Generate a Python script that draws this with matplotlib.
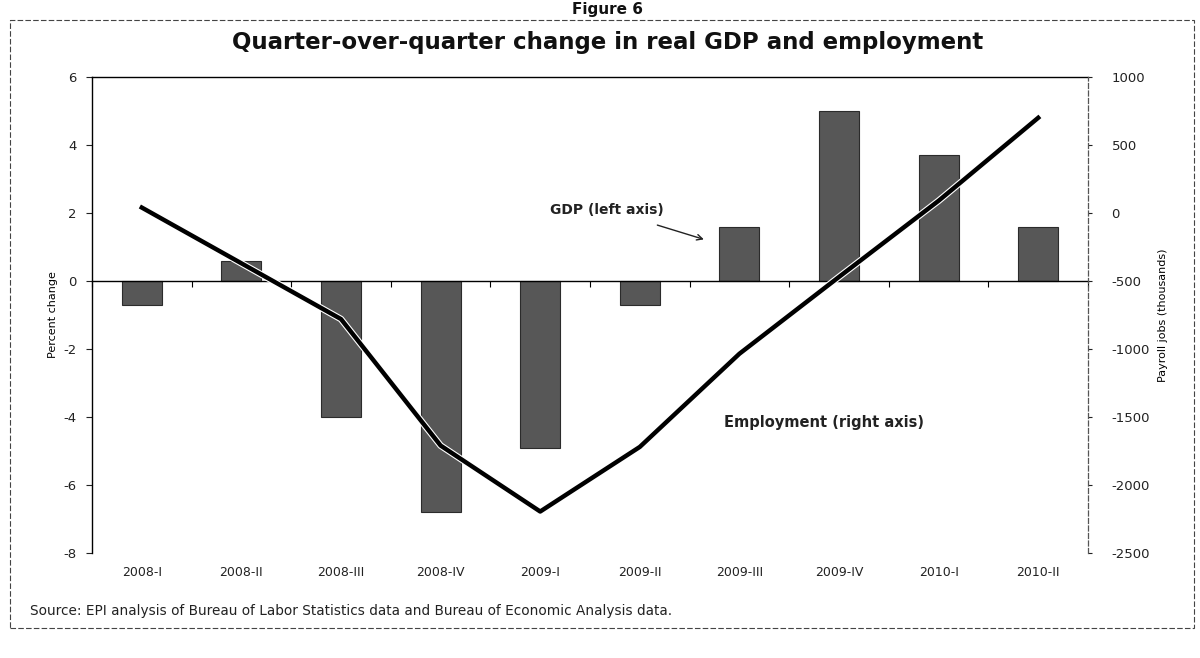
import numpy as np
import matplotlib
matplotlib.use("Agg")
import matplotlib.pyplot as plt
import matplotlib.patheffects as pe
from matplotlib.patches import Rectangle

plt.rcParams["axes.unicode_minus"] = False

# quarters and values
quarters = ["2008-I", "2008-II", "2008-III", "2008-IV", "2009-I",
            "2009-II", "2009-III", "2009-IV", "2010-I", "2010-II"]
gdp = [-0.7, 0.6, -4.0, -6.8, -4.9, -0.7, 1.6, 5.0, 3.7, 1.6]          # percent change
jobs = [40, -370, -780, -1710, -2195, -1720, -1035, -470, 90, 700]     # thousands

left_ticks = [-8, -6, -4, -2, 0, 2, 4, 6]
right_ticks = [-2500, -2000, -1500, -1000, -500, 0, 500, 1000]

narrow = ["Liberation Sans Narrow", "DejaVu Sans"]

fig = plt.figure(figsize=(12, 6.58), dpi=100)
ax = fig.add_axes([92/1200, 1-553/658, 996/1200, 476/658])
x = np.arange(len(quarters))

ax.bar(x, gdp, width=0.4, color="#575757", edgecolor="#2b2b2b", linewidth=0.8, zorder=2)
ax.set_xlim(-0.5, len(quarters)-0.5)
ax.set_ylim(left_ticks[0], left_ticks[-1])
ax.set_yticks(left_ticks)
ax.tick_params(axis="y", direction="out", length=4, pad=7, labelsize=9.5, colors="#222222")

# zero line with ticks between categories
ax.spines["bottom"].set_position(("data", 0))
ax.spines["bottom"].set_linewidth(1.0)
ax.set_xticks(x)
ax.set_xticks(np.arange(len(quarters)+1)-0.5, minor=True)
ax.tick_params(axis="x", which="major", length=0, labelbottom=False)
ax.tick_params(axis="x", which="minor", direction="out", length=4, width=0.8)
ax.spines["top"].set_linewidth(1.0)
ax.spines["left"].set_linewidth(1.0)
ax.spines["right"].set_visible(False)

# category labels at the bottom of the plot
sec = ax.secondary_xaxis("bottom")
sec.set_xticks(x, labels=quarters)
sec.tick_params(length=0, pad=9, labelsize=9, labelcolor="#222222")
sec.spines["bottom"].set_visible(False)

ax.set_ylabel("Percent change", family=narrow, fontsize=8, labelpad=4)

ax2 = ax.twinx()
ax2.plot(x, jobs, color="black", linewidth=3.2, solid_joinstyle="round",
         path_effects=[pe.Stroke(linewidth=4.8, foreground="white"), pe.Normal()], zorder=3)
ax2.set_ylim(right_ticks[0], right_ticks[-1])
ax2.set_yticks(right_ticks)
ax2.tick_params(axis="y", direction="out", length=3, pad=14, labelsize=9.5, colors="#222222")
for s in ["top", "bottom", "left"]:
    ax2.spines[s].set_visible(False)
ax2.spines["right"].set_linestyle((0, (4, 2)))
ax2.spines["right"].set_color("#555555")
ax2.spines["right"].set_linewidth(0.9)
ax2.set_ylabel("Payroll jobs (thousands)", family=narrow, fontsize=8, labelpad=6)

# annotations
ax.annotate("GDP (left axis)", xy=(5.67, 1.2), xytext=(4.67, 2.1),
            fontsize=10, fontweight="bold", color="#222222", ha="center", va="center",
            arrowprops=dict(arrowstyle="->", color="#222222", lw=1.0, shrinkA=14, shrinkB=2))
ax.text(6.85, -4.15, "Employment (right axis)", fontsize=10.5, fontweight="bold",
        color="#222222", ha="center", va="center")

# titles and source
fig.text(608/1200, 1-43/658, "Quarter-over-quarter change in real GDP and employment",
         fontsize=16.5, fontweight="bold", ha="center", va="center", color="#111111")
fig.text(607/1200, 1-2/658, "Figure 6", fontsize=11, fontweight="bold",
         ha="center", va="top", color="#111111")
fig.text(30/1200, 1-611/658,
         "Source: EPI analysis of Bureau of Labor Statistics data and Bureau of Economic Analysis data.",
         fontsize=9.8, ha="left", va="center", color="#222222")

# outer border of the chart box
fig.patches.append(Rectangle((10/1200, 1-628/658), 1184/1200, 608/658,
                             transform=fig.transFigure, fill=False,
                             edgecolor="#444444", linewidth=0.8, linestyle=(0, (5, 2))))

fig.savefig("out.png", dpi=100, facecolor="white")
